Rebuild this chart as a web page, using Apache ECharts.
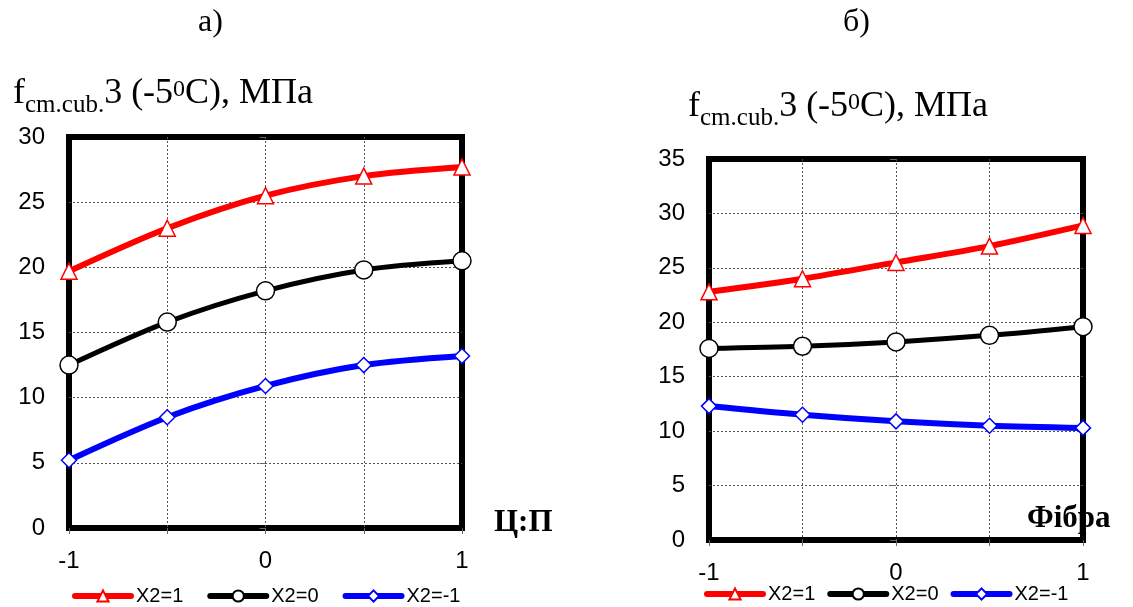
<!DOCTYPE html>
<html>
<head>
<meta charset="utf-8">
<script src="https://cdn.jsdelivr.net/npm/echarts@6/dist/echarts.min.js"></script>
<style>
  html, body { margin: 0; padding: 0; background: #fff; }
  #chart { width: 1133px; height: 607px; }
</style>
</head>
<body>
<div id="chart"></div>
<script>
// Factor levels on the horizontal axis (coded units)
const levels = [-1, -0.5, 0, 0.5, 1];
const xTickLabels = [-1, 0, 1];

// Panel а): strength vs. Ц:П ratio
const aX2p1 = [19.7, 23.0, 25.5, 27.0, 27.7];
const aX2z0 = [12.5, 15.8, 18.2, 19.8, 20.5];
const aX2m1 = [5.2, 8.5, 10.9, 12.5, 13.2];

// Panel б): strength vs. fibre content
const bX2p1 = [22.8, 24.0, 25.5, 27.0, 28.9];
const bX2z0 = [17.6, 17.8, 18.2, 18.8, 19.6];
const bX2m1 = [12.3, 11.5, 10.9, 10.5, 10.3];

const seriesNames = ['X2=1', 'X2=0', 'X2=-1'];
const panelTitles = ['а)', 'б)'];
const xNames = ['Ц:П', 'Фібра'];

const SERIF = '"Liberation Serif", "Times New Roman", serif';
const SANS = '"Liberation Sans", Arial, sans-serif';

const yName = '{f|f}{sub|cm.cub.}{m|3 (-5}{sup|0}{m|C), МПа}';
const yNameRich = {
  f:   { fontFamily: SERIF, fontSize: 36, fontWeight: 'normal', lineHeight: 52, color: '#000' },
  m:   { fontFamily: SERIF, fontSize: 36, fontWeight: 'normal', lineHeight: 52, color: '#000' },
  sub: { fontFamily: SERIF, fontSize: 25, fontWeight: 'normal', color: '#000', padding: [22, 0, 0, 0] },
  sup: { fontFamily: SERIF, fontSize: 24, fontWeight: 'normal', color: '#000', padding: [0, 0, 8, 0] }
};

const styles = [
  { color: '#ff0000', symbol: 'triangle', size: 16, width: 6 },
  { color: '#000000', symbol: 'circle', size: 18, width: 5 },
  { color: '#0000ff', symbol: 'diamond', size: 15, width: 6 }
];

function pairs(vals) { return levels.map((x, i) => [x, vals[i]]); }

function makeSeries(vals, k, idx) {
  const s = styles[k];
  return {
    name: seriesNames[k],
    type: 'line',
    xAxisIndex: idx,
    yAxisIndex: idx,
    data: pairs(vals),
    smooth: 0.3,
    clip: false,
    symbol: s.symbol,
    symbolSize: s.size,
    lineStyle: { color: s.color, width: s.width },
    itemStyle: { color: '#ffffff', borderColor: s.color, borderWidth: 1.5 },
    z: 3
  };
}

const dotted = { color: '#555', width: 1, type: [2, 2] };

function xAxis(idx) {
  return {
    type: 'value', gridIndex: idx, min: -1, max: 1, interval: 0.5,
    axisLine: { show: false },
    axisTick: { show: true, length: 6, lineStyle: { color: '#666', width: 1 } },
    axisLabel: {
      margin: 21, fontFamily: SANS, fontSize: 24, color: '#000',
      formatter: v => xTickLabels.indexOf(v) >= 0 ? String(v) : ''
    },
    splitLine: { show: true, showMinLine: false, showMaxLine: false, lineStyle: dotted }
  };
}

function yAxis(idx, max) {
  return {
    type: 'value', gridIndex: idx, min: 0, max: max, interval: 5,
    axisLine: { show: false },
    axisTick: { show: true, length: 6, lineStyle: { color: '#666', width: 1 } },
    axisLabel: { margin: 24, fontFamily: SANS, fontSize: 24, color: '#000' },
    splitLine: { show: true, showMinLine: false, showMaxLine: false, lineStyle: dotted }
  };
}

const gridBox = { show: true, borderColor: '#000', borderWidth: 6, backgroundColor: 'transparent' };

const legendBase = {
  itemWidth: 56, itemHeight: 14, padding: 0, data: seriesNames,
  lineStyle: { width: 6, cap: 'round' },
  textStyle: { fontFamily: SANS, fontSize: 20, color: '#000' }
};

const option = {
  animation: false,
  backgroundColor: '#ffffff',
  title: [
    { text: panelTitles[0], left: 193, top: 2, textStyle: { fontFamily: SERIF, fontSize: 32, fontWeight: 'normal', color: '#000' } },
    { text: panelTitles[1], left: 838, top: 2, textStyle: { fontFamily: SERIF, fontSize: 32, fontWeight: 'normal', color: '#000' } },
    { text: yName, left: 8, top: 63, textStyle: { fontWeight: 'normal', rich: yNameRich } },
    { text: yName, left: 683, top: 76, textStyle: { fontWeight: 'normal', rich: yNameRich } }
  ],
  graphic: [
    { type: 'text', left: 494, top: 507, z: -1,
      style: { text: xNames[0], font: 'bold 31px ' + SERIF, fill: '#000' } },
    { type: 'text', left: 1027, top: 503, z: -1,
      style: { text: xNames[1], font: 'bold 31px ' + SERIF, fill: '#000' } }
  ],
  grid: [
    Object.assign({ left: 69, right: 671, top: 137, bottom: 79 }, gridBox),
    Object.assign({ left: 709, right: 50, top: 159, bottom: 67 }, gridBox)
  ],
  xAxis: [xAxis(0), xAxis(1)],
  yAxis: [yAxis(0, 30), yAxis(1, 35)],
  legend: [
    Object.assign({ left: 72, top: 586, itemGap: 24 }, legendBase),
    Object.assign({ left: 704, top: 584, itemGap: 12 }, legendBase)
  ],
  series: [
    makeSeries(aX2p1, 0, 0), makeSeries(aX2z0, 1, 0), makeSeries(aX2m1, 2, 0),
    makeSeries(bX2p1, 0, 1), makeSeries(bX2z0, 1, 1), makeSeries(bX2m1, 2, 1)
  ]
};

const chart = echarts.init(document.getElementById('chart'), null, { renderer: 'canvas' });
chart.setOption(option);
</script>
</body>
</html>
